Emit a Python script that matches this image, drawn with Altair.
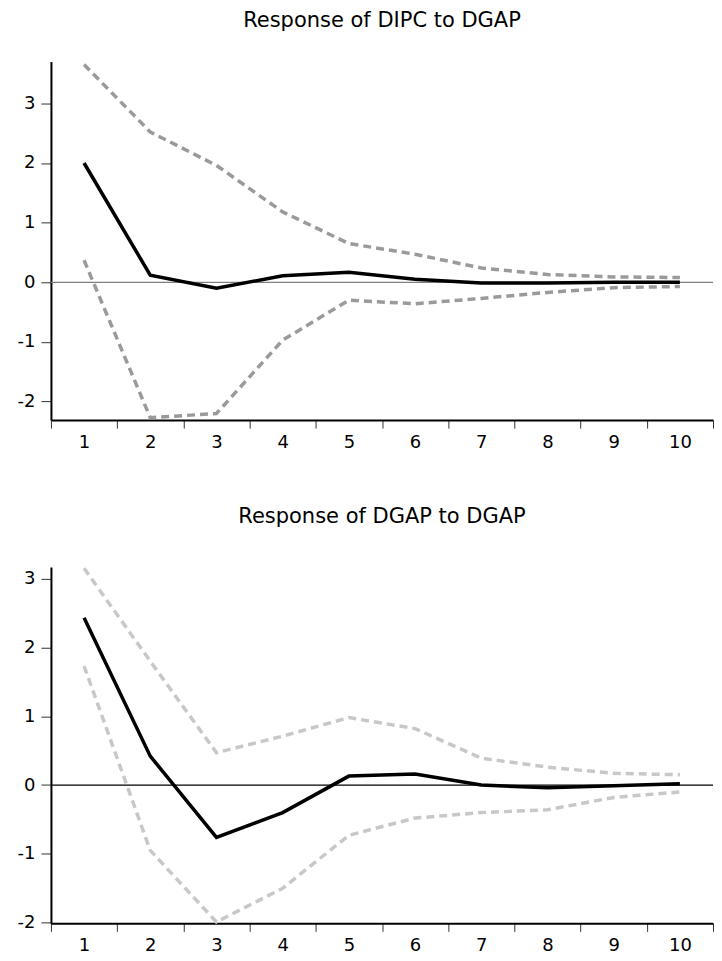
import altair as alt
import pandas as pd

horizons = [1, 2, 3, 4, 5, 6, 7, 8, 9, 10]

p1_title = "Response of DIPC to DGAP"
p1_resp = [2.00, 0.12, -0.10, 0.11, 0.17, 0.05, -0.01, -0.01, 0.00, 0.00]
p1_upper = [3.65, 2.52, 1.96, 1.18, 0.65, 0.47, 0.24, 0.13, 0.09, 0.08]
p1_lower = [0.37, -2.27, -2.20, -0.97, -0.30, -0.36, -0.27, -0.17, -0.09, -0.07]
p1_ydomain = [-2.31, 3.70]

p2_title = "Response of DGAP to DGAP"
p2_resp = [2.43, 0.42, -0.76, -0.40, 0.13, 0.16, 0.00, -0.04, -0.01, 0.02]
p2_upper = [3.15, 1.80, 0.47, 0.71, 0.98, 0.82, 0.39, 0.26, 0.17, 0.15]
p2_lower = [1.73, -0.95, -1.99, -1.50, -0.73, -0.48, -0.40, -0.36, -0.18, -0.10]
p2_ydomain = [-2.01, 3.17]

y_ticks = [-2, -1, 0, 1, 2, 3]
FONT = "DejaVu Sans"


def panel(title, resp, upper, lower, ydomain, band_color, zero_color, height, toffset):
    df = pd.DataFrame({"h": horizons, "resp": resp, "upper": upper, "lower": lower})
    x = alt.X(
        "h:O",
        bandPosition=0.5,
        scale=alt.Scale(type="band", paddingInner=0, paddingOuter=0),
        axis=alt.Axis(
            title=None, labelAngle=0, tickBand="extent", labelFontSize=18,
            labelFont=FONT, labelColor="#000", tickSize=8, tickColor="#333",
            domainColor="#000", domainWidth=2, labelPadding=5, grid=False,
        ),
    )

    def yenc(field):
        return alt.Y(
            f"{field}:Q",
            scale=alt.Scale(domain=ydomain, nice=False, zero=False),
            axis=alt.Axis(
                title=None, values=y_ticks, labelExpr="'' + datum.value",
                labelFontSize=18, labelFont=FONT, labelColor="#000",
                tickSize=10, tickColor="#333", domainColor="#000",
                domainWidth=2, labelPadding=6, grid=False,
            ),
        )

    base = alt.Chart(df)
    zero = alt.Chart(pd.DataFrame({"z": [0]})).mark_rule(
        color=zero_color, strokeWidth=1.2
    ).encode(y=alt.Y("z:Q", scale=alt.Scale(domain=ydomain, nice=False, zero=False)))
    up = base.mark_line(color=band_color, strokeWidth=3.5, strokeDash=[8, 5]).encode(x=x, y=yenc("upper"))
    lo = base.mark_line(color=band_color, strokeWidth=3.5, strokeDash=[8, 5]).encode(x=x, y=yenc("lower"))
    main = base.mark_line(color="#000", strokeWidth=3.5).encode(x=x, y=yenc("resp"))
    return alt.layer(zero, up, lo, main).properties(
        width=663, height=height,
        title=alt.TitleParams(title, fontSize=21, font=FONT, fontWeight="normal",
                              color="#000", offset=toffset, anchor="middle"),
    )


c1 = panel(p1_title, p1_resp, p1_upper, p1_lower, p1_ydomain, "#9a9a9a", "#808080", 359, 27)
c2 = panel(p2_title, p2_resp, p2_upper, p2_lower, p2_ydomain, "#c8c8c8", "#000", 357, 34.5)

chart = alt.vconcat(c1, c2, spacing=54).properties(
    padding={"left": 9, "top": 0, "right": 0, "bottom": 0}
).configure_view(stroke=None).resolve_scale(y="independent")

chart.save("out.html", embed_options={"renderer": "svg", "actions": False})
